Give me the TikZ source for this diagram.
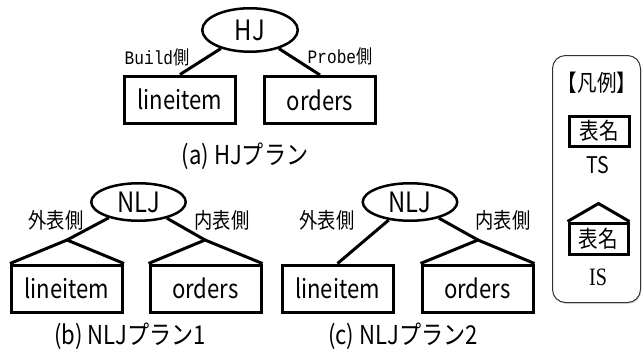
\documentclass[tikz,border=0pt]{standalone}
\usepackage{fontspec}
\setmainfont{Noto Sans CJK JP}[FakeStretch=0.85]
\newfontfamily\monof{Liberation Mono}[FakeStretch=0.85]
\newfontfamily\serf{Liberation Serif}[FakeStretch=0.8]
\newfontfamily\sansf{Noto Sans CJK JP}[FakeStretch=0.85]
\usetikzlibrary{shapes.geometric,shadows}
\tikzset{
  tbl/.style={draw, line width=3pt, minimum width=111pt, minimum height=47pt, inner sep=0pt, font=\fontsize{26}{26}\selectfont},
  joinop/.style={ellipse, draw, line width=2.5pt, inner sep=0pt, font=\fontsize{28}{28}\selectfont},
  conn/.style={line width=3pt},
  lbl/.style={inner sep=0pt, font=\fontsize{21.5}{21.5}\selectfont},
  caption/.style={inner sep=0pt, font=\fontsize{26}{26}\selectfont},
  legtbl/.style={draw, line width=3pt, inner sep=0pt, font=\fontsize{23}{23}\selectfont}
}
\begin{document}
\begin{tikzpicture}[x=1pt,y=-1pt]
\useasboundingbox (0,0) rectangle (643,349);
% (a) HJ plan
\node[joinop, minimum width=95.5pt, minimum height=43.5pt] (hj) at (250,30) {HJ};
\node[tbl] (lia) at (180,99.5) {lineitem};
\node[tbl] (orda) at (320,100) {orders};
\draw[conn] (hj) -- (lia.north);
\draw[conn] (hj) -- (orda.north);
\node[inner sep=0pt, font=\fontsize{19}{19}\selectfont] (bld) at (157,57) {{\monof Build}側};
\node[inner sep=0pt, font=\fontsize{19}{19}\selectfont] (prb) at (340,56) {{\monof Probe}側};
\node[caption] (capa) at (245,156) {(a) HJプラン};
% (b) NLJ plan 1
\node[joinop, minimum width=94.5pt, minimum height=37.5pt] (nljb) at (138.5,202) {NLJ};
\node[tbl] (lib) at (67,288.5) {lineitem};
\node[tbl] (ordb) at (205.5,288.5) {orders};
\coordinate (aplib) at (67,240);
\coordinate (apordb) at (205,240);
\draw[conn, line join=miter] (lib.north west) -- (aplib) -- (lib.north east);
\draw[conn, line join=miter] (ordb.north west) -- (apordb) -- (ordb.north east);
\draw[conn] (nljb) -- (aplib);
\draw[conn] (nljb) -- (apordb);
\node[lbl] (outb) at (56,220) {外表側};
\node[lbl] (inb) at (222,220) {内表側};
\node[caption] (capb) at (130,336) {(b) NLJプラン1};
% (c) NLJ plan 2
\node[joinop, minimum width=94.5pt, minimum height=37.5pt] (nljc) at (410,202) {NLJ};
\node[tbl] (lic) at (337.5,288.5) {lineitem};
\node[tbl] (ordc) at (477.5,288.5) {orders};
\coordinate (apordc) at (478,240);
\draw[conn, line join=miter] (ordc.north west) -- (apordc) -- (ordc.north east);
\draw[conn] (nljc) -- (lic.north);
\draw[conn] (nljc) -- (apordc);
\node[lbl] (outc) at (327,220) {外表側};
\node[lbl] (inc) at (503,220) {内表側};
\node[caption] (capc) at (403,336) {(c) NLJプラン2};
% legend
\node[draw=black!80, line width=1pt, rounded corners=13pt, fill=white,
      drop shadow={opacity=0.25, shadow xshift=0.8pt, shadow yshift=-1.5pt},
      minimum width=88pt, minimum height=247pt] (legend) at (596.5,179) {};
\node[inner sep=0pt, font=\fontsize{23}{23}\selectfont] (legt) at (597,83) {【凡例】};
\node[legtbl, minimum width=60pt, minimum height=30pt] (tsbox) at (599,131) {表名};
\node[inner sep=0pt, font=\sansf\fontsize{23}{23}\selectfont] (tst) at (598,165) {TS};
\node[legtbl, minimum width=59pt, minimum height=31pt] (isbox) at (598.5,238.5) {表名};
\coordinate (apis) at (598.5,203.5);
\draw[conn, line join=miter] (isbox.north west) -- (apis) -- (isbox.north east);
\node[inner sep=0pt, font=\serf\fontsize{25}{25}\selectfont] (ist) at (598,277) {IS};
\end{tikzpicture}
\end{document}
